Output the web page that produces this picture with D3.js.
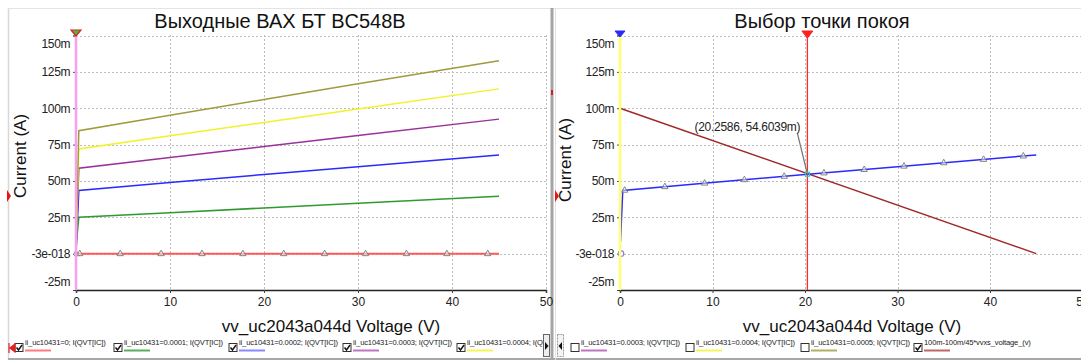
<!DOCTYPE html>
<html><head><meta charset="utf-8">
<script src="https://cdn.jsdelivr.net/npm/d3@7"></script>
<style>
html,body{margin:0;padding:0;background:#fff;}
svg{display:block;font-family:"Liberation Sans",Arial,sans-serif;}
</style></head>
<body><svg id="c" width="1081" height="363"></svg>
<script>
// ---------------- data ----------------
const titleLeft = "Выходные ВАХ БТ BC548B";
const titleRight = "Выбор точки покоя";
const xAxisLabel = "vv_uc2043a044d Voltage (V)";
const yAxisLabel = "Current (A)";
const xTicks = [0, 10, 20, 30, 40, 50];
const yTicks = [0.15, 0.125, 0.1, 0.075, 0.05, 0.025, 0, -0.025];
const yTickLabels = ["150m", "125m", "100m", "75m", "50m", "25m", "-3e-018", "-25m"];

// collector voltage sample points (V)
const vPoints = [0, 0.05, 0.3, 10, 20, 30, 45];
// collector current (A) for each base current
const ibValues = ["0", "0.0001", "0.0002", "0.0003", "0.0004", "0.0005"];
const icIb0 = [0, 0, 0, 0, 0, 0, 0];
const icIb1 = [0, 0.008, 0.0250, 0.0282, 0.0314, 0.0346, 0.0394];
const icIb2 = [0, 0.008, 0.0435, 0.0490, 0.0544, 0.0598, 0.0679];
const icIb3 = [0, 0.012, 0.0588, 0.0661, 0.0737, 0.0812, 0.0925];
const icIb4 = [0, 0.015, 0.0720, 0.0810, 0.0902, 0.0994, 0.1133];
const icIb5 = [0, 0.018, 0.0845, 0.0952, 0.1060, 0.1168, 0.1327];
const seriesColors = ["#ff5a5a", "#2f9a2f", "#2a2aff", "#9a309a", "#f2f22a", "#9c9c3c"];

// marker sample voltages
const markerV = [0, 0.4, 4.7, 9.05, 13.4, 17.75, 22.1, 26.45, 30.8, 35.15, 39.45, 43.8];
const markerVRight = [0.5, 4.85, 9.15, 13.45, 17.75, 22.05, 26.4, 30.7, 35.0, 39.3, 43.6];

// load line (100m - 100m/45 * V)
const loadV = [0, 45];
const loadI = [0.1, 0];
const loadColor = "#a02828";
// quiescent point
const qV = 20.2586;
const qI = 0.0546039;
const qLabel = "(20.2586, 54.6039m)";

const legendLeftLabels = ["ii_uc10431=0; I(QVT[IC])", "ii_uc10431=0.0001; I(QVT[IC])", "ii_uc10431=0.0002; I(QVT[IC])", "ii_uc10431=0.0003; I(QVT[IC])", "ii_uc10431=0.0004; I(QVT[IC])"];
const legendLeftColors = ["#ff5a5a", "#2f9a2f", "#6a6aff", "#b050b0", "#f2f22a"];
const legendRightLabels = ["ii_uc10431=0.0003; I(QVT[IC])", "ii_uc10431=0.0004; I(QVT[IC])", "ii_uc10431=0.0005; I(QVT[IC])", "100m-100m/45*vvxs_voltage_(v)"];
const legendRightColors = ["#b050b0", "#f2f22a", "#9c9c3c", "#b04040"];
const legendRightChecked = [false, false, false, true];

// ---------------- drawing ----------------
const svg = d3.select("#c");
const icSeries = [icIb0, icIb1, icIb2, icIb3, icIb4, icIb5];

// frame
svg.append("rect").attr("x", 0).attr("y", 0).attr("width", 1081).attr("height", 363).attr("fill", "#fff");
svg.append("line").attr("x1", 8.5).attr("x2", 8.5).attr("y1", 8).attr("y2", 359).attr("stroke", "#d8d8d8").attr("stroke-width", 1.5);
svg.append("line").attr("x1", 8).attr("x2", 1081).attr("y1", 8.5).attr("y2", 8.5).attr("stroke", "#e4e4e4").attr("stroke-width", 1);
svg.append("line").attr("x1", 8).attr("x2", 1081).attr("y1", 359).attr("y2", 359).attr("stroke", "#a8a8a8").attr("stroke-width", 2);
svg.append("rect").attr("x", 550.5).attr("y", 8).attr("width", 3).attr("height", 352).attr("fill", "#a4a4a4");
svg.append("line").attr("x1", 555.5).attr("x2", 555.5).attr("y1", 8).attr("y2", 360).attr("stroke", "#e0e0e0");
svg.append("rect").attr("x", 551).attr("y", 90).attr("width", 2).attr("height", 5).attr("fill", "#d02020");

function interp(vs, is, v) {
  for (let k = 1; k < vs.length; k++) {
    if (v <= vs[k]) {
      const t = (v - vs[k - 1]) / (vs[k] - vs[k - 1]);
      return is[k - 1] + t * (is[k] - is[k - 1]);
    }
  }
  return is[is.length - 1];
}

function makePanel(opts) {
  const g = svg.append("g");
  const x = d3.scaleLinear().domain([0, 50]).range([opts.x0, opts.x1]);
  const y = d3.scaleLinear().domain([-0.025, 0.15]).range([290, 35.5]);
  const clipId = "clip" + opts.id;
  svg.append("defs").append("clipPath").attr("id", clipId).append("rect")
    .attr("x", opts.x0 - 2).attr("y", 28).attr("width", opts.clipW).attr("height", 264);

  // grid
  const grid = g.append("g").attr("clip-path", `url(#${clipId})`);
  grid.selectAll(".hg").data(yTicks).join("line")
    .attr("x1", opts.x0).attr("x2", x(50)).attr("y1", d => Math.round(y(d)) + 0.5).attr("y2", d => Math.round(y(d)) + 0.5)
    .attr("stroke", "#bcbcbc").attr("stroke-dasharray", "2,2");
  grid.selectAll(".vg").data(xTicks.slice(1)).join("line")
    .attr("x1", d => Math.round(x(d)) + 0.5).attr("x2", d => Math.round(x(d)) + 0.5).attr("y1", 35).attr("y2", 290)
    .attr("stroke", "#bcbcbc").attr("stroke-dasharray", "2,2");

  // axes
  const xa = g.append("g").attr("transform", "translate(0,290)")
    .call(d3.axisBottom(x).tickValues(xTicks).tickFormat(d3.format("d")).tickSize(3).tickPadding(4));
  xa.select(".domain").attr("stroke", "#222").attr("stroke-width", 1.5);
  xa.selectAll("line").attr("stroke", "#444");
  xa.selectAll("text").attr("font-size", 12).attr("fill", "#222").attr("font-family", "Liberation Sans, Arial");

  const ya = g.append("g").attr("transform", `translate(${opts.x0},0)`)
    .call(d3.axisLeft(y).tickValues(yTicks).tickFormat((d, i) => yTickLabels[i]).tickSize(3).tickPadding(3));
  ya.select(".domain").attr("stroke", "#555");
  ya.selectAll("line").attr("stroke", "#444");
  ya.selectAll("text").attr("font-size", 12).attr("fill", "#222").attr("font-family", "Liberation Sans, Arial")
    .attr("letter-spacing", "-0.4")
    .attr("dy", (d, i) => i === 0 ? "1.0em" : (i === yTicks.length - 1 ? "-0.35em" : "0.32em"));

  // titles
  g.append("text").attr("x", opts.titleX).attr("y", 28).attr("text-anchor", "middle")
    .attr("font-size", 20).attr("fill", "#111").text(opts.title);
  g.append("text").attr("x", opts.xLabelX).attr("y", 332).attr("text-anchor", "middle")
    .attr("font-size", 17).attr("fill", "#111").text(xAxisLabel);
  g.append("text").attr("transform", `translate(${opts.yLabelX},${opts.yLabelY}) rotate(-90)`)
    .attr("text-anchor", "middle").attr("font-size", 17).attr("fill", "#111").text(yAxisLabel);

  // left-edge marker
  g.append("path").attr("d", `M${opts.markX},${opts.markY - 6}L${opts.markX + 4},${opts.markY}L${opts.markX},${opts.markY + 6}Z`)
    .attr("fill", "#ee1111");

  const plot = g.append("g").attr("clip-path", `url(#${clipId})`);
  return { g, x, y, plot };
}

function triMarker(sel, px, py) {
  sel.append("path").attr("d", `M${px},${py - 3.5}L${px + 3.2},${py + 2}L${px - 3.2},${py + 2}Z`)
    .attr("fill", "#fff").attr("fill-opacity", 0.5).attr("stroke", "#777").attr("stroke-width", 0.9);
}

// ---- left panel ----
const L = makePanel({ id: "L", x0: 76, x1: 546, clipW: 474, title: titleLeft, titleX: 280,
  xLabelX: 331, yLabelX: 26, yLabelY: 156, markX: 7, markY: 196 });
const lineL = d3.line().x(d => L.x(d[0])).y(d => L.y(d[1]));
icSeries.forEach((ic, i) => {
  const pts = vPoints.map((v, k) => [v, ic[k]]);
  L.plot.append("path").attr("d", lineL(pts)).attr("fill", "none")
    .attr("stroke", seriesColors[i]).attr("stroke-width", i === 0 ? 2 : 1.5);
});
markerV.forEach(v => triMarker(L.plot, L.x(v), L.y(interp(vPoints, icIb0, v))));
// cursor
L.plot.append("line").attr("x1", L.x(0)).attr("x2", L.x(0)).attr("y1", 33).attr("y2", 290)
  .attr("stroke", "#f7a0ee").attr("stroke-width", 2.5);
svg.append("path").attr("d", `M${L.x(0) - 5},30L${L.x(0) + 5},30L${L.x(0)},36Z`)
  .attr("fill", "#3fc23f").attr("stroke", "#e02020").attr("stroke-width", 1.2);

// ---- right panel ----
const R = makePanel({ id: "R", x0: 620, x1: 1082.5, clipW: 470, title: titleRight, titleX: 822,
  xLabelX: 852, yLabelX: 571, yLabelY: 160, markX: 555, markY: 196 });
const lineR = d3.line().x(d => R.x(d[0])).y(d => R.y(d[1]));
R.plot.append("path").attr("d", lineR(loadV.map((v, k) => [v, loadI[k]]))).attr("fill", "none")
  .attr("stroke", loadColor).attr("stroke-width", 1.5);
R.plot.append("path").attr("d", lineR(vPoints.slice(1).map((v, k) => [v, icIb2[k + 1]]))).attr("fill", "none")
  .attr("stroke", "#2a2aff").attr("stroke-width", 1.5);
markerVRight.forEach(v => triMarker(R.plot, R.x(v), R.y(interp(vPoints, icIb2, v))));
R.plot.append("circle").attr("cx", R.x(0) + 1).attr("cy", R.y(0)).attr("r", 2.8)
  .attr("fill", "#fff").attr("stroke", "#8a7ae8").attr("stroke-width", 1.2);
// cursors
R.plot.append("line").attr("x1", R.x(0)).attr("x2", R.x(0)).attr("y1", 33).attr("y2", 290)
  .attr("stroke", "#ffff70").attr("stroke-width", 2.5);
R.plot.append("line").attr("x1", R.x(qV)).attr("x2", R.x(qV)).attr("y1", 33).attr("y2", 290)
  .attr("stroke", "#ff2a2a").attr("stroke-width", 1.3);
svg.append("path").attr("d", `M${R.x(0) - 5},31L${R.x(0) + 5},31L${R.x(0)},37Z`)
  .attr("fill", "#2a2aff").attr("stroke", "#2a2aff").attr("stroke-width", 1);
svg.append("path").attr("d", `M${R.x(qV) - 5.5},31L${R.x(qV) + 5.5},31L${R.x(qV)},38Z`)
  .attr("fill", "#ff2020").attr("stroke", "#ff2020").attr("stroke-width", 1);
// Q point & annotation
const qx = R.x(qV), qy = R.y(qI);
svg.append("line").attr("x1", qx - 10).attr("y1", qy - 41).attr("x2", qx).attr("y2", qy)
  .attr("stroke", "#777").attr("stroke-width", 1.2);
svg.append("rect").attr("x", qx - 2).attr("y", qy - 2).attr("width", 4).attr("height", 4)
  .attr("fill", "none").attr("stroke", "#30c8c8").attr("stroke-width", 1.2);
svg.append("text").attr("x", qx - 60).attr("y", qy - 43).attr("text-anchor", "middle")
  .attr("font-size", 12).attr("fill", "#222").attr("letter-spacing", "-0.3").text(qLabel);

// ---- legends ----
svg.append("defs").append("clipPath").attr("id", "legClipL").append("rect")
  .attr("x", 0).attr("y", 330).attr("width", 543).attr("height", 30);
function legendItem(parent, x, label, color, checked) {
  const gi = parent.append("g");
  gi.append("rect").attr("x", x - 4).attr("y", 343.5).attr("width", 8).attr("height", 8)
    .attr("fill", "#fff").attr("stroke", "#333").attr("stroke-width", 1);
  if (checked) {
    gi.append("path").attr("d", `M${x - 2.5},347.5L${x - 0.5},350L${x + 3},345`)
      .attr("fill", "none").attr("stroke", "#111").attr("stroke-width", 1.4);
  }
  gi.append("text").attr("x", x + 6).attr("y", 344.5).attr("font-size", 7.6).attr("fill", "#222")
    .attr("letter-spacing", "-0.15").text(label);
  gi.append("line").attr("x1", x + 6).attr("x2", x + 32).attr("y1", 350.5).attr("y2", 350.5)
    .attr("stroke", color).attr("stroke-width", 2).attr("stroke-opacity", 0.8);
}
const legL = svg.append("g").attr("clip-path", "url(#legClipL)");
const legLX = [19, 118, 233, 347, 461];
legendLeftLabels.forEach((lab, i) => legendItem(legL, legLX[i], lab, legendLeftColors[i], true));
svg.append("path").attr("d", "M9,343L9,353M10,348L15,344L15,352Z").attr("stroke", "#e02020").attr("fill", "#e02020").attr("stroke-width", 1.2);
const legR = svg.append("g");
const legRX = [575, 690, 805, 918];
legendRightLabels.forEach((lab, i) => legendItem(legR, legRX[i], lab, legendRightColors[i], legendRightChecked[i]));
// scroll buttons
svg.append("rect").attr("x", 543.5).attr("y", 334.5).attr("width", 6).attr("height", 22)
  .attr("fill", "#eee").attr("stroke", "#666");
svg.append("path").attr("d", "M545,342L548.5,346L545,350Z").attr("fill", "#111");
svg.append("rect").attr("x", 557.5).attr("y", 334.5).attr("width", 6).attr("height", 22)
  .attr("fill", "#f4f4f4").attr("stroke", "#999").attr("stroke-dasharray", "2,1");
svg.append("path").attr("d", "M562,342L558.5,346L562,350Z").attr("fill", "#111");
</script></body></html>
